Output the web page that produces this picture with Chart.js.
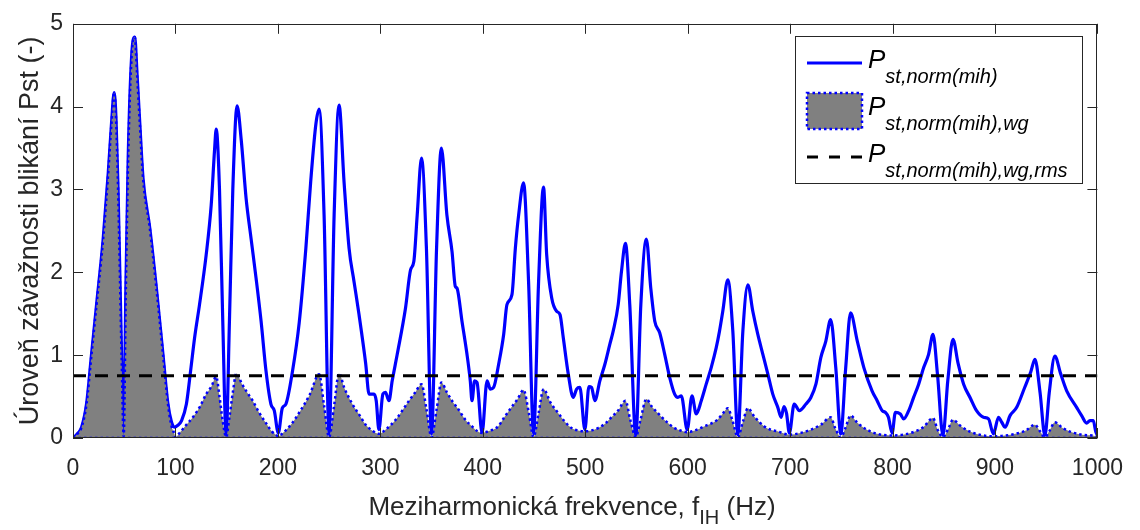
<!DOCTYPE html>
<html>
<head>
<meta charset="utf-8">
<script src="https://cdn.jsdelivr.net/npm/chart.js@4.4.1/dist/chart.umd.min.js"></script>
<style>
  body { margin: 0; background: #fff; }
  #wrap { width: 1140px; height: 530px; }
</style>
</head>
<body>
<div id="wrap"><canvas id="pstChart" width="1140" height="530"></canvas></div>
<script>
// Pst,norm(mih) - blue curve (Hz / Pst)
const freqMih = [
  0, 2, 5, 8.4, 13.2, 18, 23, 29.5, 34.4, 37.6, 40.2, 42, 44, 47.4, 49.5, 51.6, 53.9, 57.2, 60.3, 62.5,
  65.2, 68.4, 75, 81.4, 87.9, 92.7, 96, 99, 102, 106, 110.7, 114.8, 118.7, 123.5, 130, 134.9, 138.2, 139.8,
  143, 146.2, 149.5, 152.7, 156, 160.2, 164.2, 169, 173.8, 178.7, 183.6, 188.4, 193.2, 196.5, 200.4, 204.3,
  207.8, 214.3, 220.8, 227.3, 232, 237.2, 240.3, 245.1, 250, 254.9, 259.7, 264.6, 269.5, 274.3, 279.2, 285.7,
  289, 293.8, 296, 298.6, 302.5, 305, 308.4, 311.6, 316.5, 324.6, 329.5, 332.7, 336, 340.2, 345, 350, 354.9,
  359.6, 365, 370, 373.2, 374.8, 379.7, 384.6, 387.8, 389.5, 392, 394.4, 399.3, 404.2, 407.4, 410.6, 415.5,
  420.4, 423.6, 428.5, 431.8, 435, 439.8, 444.7, 449.6, 454.5, 459.3, 462.4, 467.3, 472.1, 475.4, 478.6,
  483.5, 488.3, 491.6, 494.8, 499.7, 503.6, 506.2, 509.4, 514.3, 519.2, 524, 527.3, 532.2, 535.4, 539.3,
  543.5, 549.4, 554.3, 559.7, 564, 567.9, 572.7, 577.6, 582.5, 587.3, 590.5, 593.8, 599.6, 604.2, 608.4,
  613.3, 618.1, 623, 627.9, 631.1, 634.3, 639.2, 644.1, 649, 653.9, 658.8, 663.6, 668.5, 673.4, 678.3, 683.1,
  688, 691.3, 694, 696.5, 699.3, 704, 709, 715.5, 720.3, 725.2, 730, 734.9, 739.6, 744.6, 749.5, 754.3, 759,
  765.6, 772, 780, 785, 790, 793, 796, 799.6, 802.8, 807.6, 810.9, 815.8, 820.6, 825.5, 830.4, 835.2, 839.5,
  844, 849.2, 854, 859, 864, 869.4, 876, 882, 888.8, 893.7, 898.5, 903.4, 906.6, 909.9, 914.7, 921.2, 929,
  935, 939, 944, 948.7, 953, 958.5, 964, 970, 979.7, 984.6, 989.4, 992.7, 996, 999, 1000
];
const pstMih = [
  0, 0.02, 0.06, 0.13, 0.41, 1.0, 1.61, 2.41, 3.2, 3.8, 4.17, 3.85, 3.0, 1.0, 0.02, 1.8, 3.4, 4.6, 4.84, 4.4,
  3.8, 3.13, 2.53, 1.81, 1.0, 0.41, 0.2, 0.13, 0.15, 0.21, 0.41, 0.81, 1.21, 1.61, 2.21, 2.81, 3.48, 3.73,
  3.0, 1.41, 0.02, 1.41, 3.0, 4.01, 3.6, 2.89, 2.41, 1.93, 1.41, 0.81, 0.41, 0.33, 0.06, 0.36,
  0.41, 0.81, 1.39, 2.29, 3.09, 3.8, 3.97, 2.69, 0.05, 2.69, 4.02, 3.09, 2.29, 1.89, 1.49, 0.9,
  0.53, 0.53, 0.45, 0.1, 0.53, 0.55, 0.45, 0.69, 1.01, 1.57, 2.03, 2.13, 2.69, 3.38, 2.29, 0.05, 2.29,
  3.5, 2.69, 2.25, 1.83, 1.81, 1.41, 1.01, 0.69, 0.45, 0.69, 0.67, 0.06, 0.69, 0.59, 0.61, 0.89,
  1.25, 1.61, 1.73, 2.29, 2.69, 3.08, 1.89, 0.05, 1.89, 3.03, 2.21, 1.69, 1.53, 1.49, 1.21,
  0.77, 0.49, 0.59, 0.61, 0.1, 0.62, 0.61, 0.45, 0.69, 0.89, 1.13, 1.29, 1.61, 2.01, 2.35,
  1.61, 0.02, 1.61, 2.4, 1.81, 1.41, 1.27, 1.01, 0.73, 0.53, 0.49, 0.51, 0.1, 0.51, 0.29,
  0.45, 0.65, 0.85, 1.09, 1.29, 1.53, 1.91, 1.29, 0.04, 1.29, 1.85, 1.53, 1.25, 1.01, 0.77, 0.53,
  0.37, 0.25, 0.38, 0.3, 0.06, 0.41, 0.33, 0.41, 0.49, 0.65, 0.97, 1.17, 1.43, 0.85, 0.05, 0.85, 1.51,
  1.17, 0.85, 0.57, 0.45, 0.33, 0.31, 0.25, 0.06, 0.31, 0.29, 0.23, 0.33, 0.49, 0.65, 0.85, 1.01, 1.25,
  0.75, 0.03, 0.7, 1.19, 0.9, 0.65, 0.48, 0.33, 0.25, 0.23, 0.05, 0.25, 0.19, 0.13, 0.27, 0.37, 0.61,
  0.8, 0.95, 0.55, 0.03, 0.55, 0.99, 0.78, 0.57, 0.37, 0.27, 0.18, 0.21, 0.21, 0.05, 0.05
];

// Pst,norm(mih),wg - weighted, grey area
const freqWg = [
  0, 2, 5, 8.4, 13.2, 18, 23, 29.5, 34.4, 37.6, 40.2, 42, 44, 47.4, 49.5, 51.6, 53.9, 57.2, 60.3, 62.5,
  65.2, 68.4, 75, 81.4, 87.9, 92.7, 96, 99, 100, 104, 110, 117, 124, 130, 135, 139.8, 143, 146.2, 149.5,
  152.7, 156, 159.5, 165, 170, 175.4, 182, 188.4, 194, 198, 200.4, 204, 214, 222, 231, 240.3, 245, 250,
  255, 259.6, 265, 272.7, 280, 285.7, 292, 298.6, 305, 315, 328, 334, 340.2, 345, 350, 355, 359.6, 365,
  370, 376.5, 383, 389.5, 395, 399.3, 405, 415, 421, 428, 434, 439.8, 445, 449.6, 454.5, 459.3, 466, 473.7,
  480, 486.7, 493, 499.7, 506, 512.6, 519, 525.6, 532, 539.3, 544, 549.4, 554, 559.7, 565, 571, 579, 587.3,
  593, 599.6, 607, 616, 622, 629, 634, 639.2, 644, 649, 654, 658.8, 665, 674.8, 681, 687.6, 699.3, 710, 720,
  730, 739.6, 744, 749.5, 754, 759, 766, 775, 785, 799.6, 810, 820, 830, 839.5, 844, 849.2, 854, 859, 866,
  875, 885, 898.5, 910, 920, 930, 939, 944, 948.7, 953, 958.5, 966, 975, 985, 995, 1000
];
const pstWg = [
  0, 0.02, 0.06, 0.13, 0.41, 1.0, 1.61, 2.41, 3.2, 3.8, 4.17, 3.85, 3.0, 1.0, 0.02, 1.8, 3.4, 4.6, 4.84, 4.4,
  3.8, 3.13, 2.53, 1.81, 1.0, 0.41, 0.15, 0.05, 0.01, 0.06, 0.15, 0.25, 0.38, 0.53, 0.62, 0.74, 0.5, 0.2, 0.01,
  0.25, 0.55, 0.78, 0.65, 0.55, 0.45, 0.3, 0.18, 0.08, 0.04, 0.02, 0.05, 0.18, 0.33, 0.52, 0.77, 0.4, 0.01,
  0.4, 0.78, 0.6, 0.41, 0.27, 0.16, 0.09, 0.05, 0.1, 0.22, 0.45, 0.55, 0.65, 0.35, 0.01, 0.35, 0.67, 0.55,
  0.45, 0.34, 0.22, 0.14, 0.08, 0.06, 0.08, 0.14, 0.25, 0.37, 0.47, 0.58, 0.3, 0.01, 0.3, 0.59, 0.43, 0.3,
  0.2, 0.12, 0.09, 0.08, 0.09, 0.12, 0.17, 0.25, 0.33, 0.45, 0.22, 0.01, 0.22, 0.47, 0.38, 0.3, 0.2, 0.12,
  0.09, 0.07, 0.09, 0.14, 0.17, 0.22, 0.29, 0.36, 0.2, 0.01, 0.2, 0.36, 0.26, 0.14, 0.1, 0.08, 0.04, 0.06, 0.1,
  0.16, 0.25, 0.12, 0.01, 0.12, 0.27, 0.18, 0.1, 0.05, 0.03, 0.04, 0.07, 0.13, 0.24, 0.1, 0.01, 0.1, 0.22, 0.15,
  0.08, 0.04, 0.02, 0.03, 0.05, 0.09, 0.16, 0.08, 0.01, 0.08, 0.19, 0.12, 0.07, 0.04, 0.03, 0.02
];

// Pst,norm(mih),wg,rms - dashed level
const pstRms = 0.75;
const freqRange = [0, 1000];

const xTicks = [0, 100, 200, 300, 400, 500, 600, 700, 800, 900, 1000];
const yTicks = [0, 1, 2, 3, 4, 5];

const xTitle = ['Meziharmonická frekvence, f', 'IH', ' (Hz)'];
const yTitle = 'Úroveň závažnosti blikání Pst (-)';
const legendLabels = [
  ['P', 'st,norm(mih)'],
  ['P', 'st,norm(mih),wg'],
  ['P', 'st,norm(mih),wg,rms']
];

const BLUE = '#0000ff';
const GREY = '#808080';
const AXIS = '#262626';
const FONT = '"Liberation Sans", Arial, Helvetica, sans-serif';

const toPoints = (xs, ys) => xs.map((x, i) => ({ x: x, y: ys[i] }));

// draw main text followed by a lowered, smaller subscript
function textWithSub(ctx, x, y, main, sub, tail, mainFont, subFont, drop) {
  ctx.font = mainFont;
  ctx.fillText(main, x, y);
  let cx = x + ctx.measureText(main).width;
  ctx.font = subFont;
  ctx.fillText(sub, cx, y + drop);
  cx += ctx.measureText(sub).width;
  if (tail) {
    ctx.font = mainFont;
    ctx.fillText(tail, cx, y);
  }
}

function subWidth(ctx, main, sub, tail, mainFont, subFont) {
  ctx.font = mainFont;
  let w = ctx.measureText(main).width + (tail ? ctx.measureText(tail).width : 0);
  ctx.font = subFont;
  return w + ctx.measureText(sub).width;
}

// box, inward ticks, axis titles and legend
const decorations = {
  id: 'decorations',
  afterDraw(chart) {
    const { ctx, chartArea: a, scales: { x, y } } = chart;
    ctx.save();

    // frame + inward ticks
    ctx.strokeStyle = AXIS;
    ctx.lineWidth = 1;
    ctx.setLineDash([]);
    ctx.strokeRect(Math.round(a.left) + 0.5, Math.round(a.top) + 0.5,
      Math.round(a.width) - 1, Math.round(a.height) - 1);
    ctx.beginPath();
    xTicks.forEach(v => {
      const px = Math.round(x.getPixelForValue(v)) + 0.5;
      ctx.moveTo(px, a.bottom); ctx.lineTo(px, a.bottom - 10);
      ctx.moveTo(px, a.top); ctx.lineTo(px, a.top + 10);
    });
    yTicks.forEach(v => {
      const py = Math.round(y.getPixelForValue(v)) + 0.5;
      ctx.moveTo(a.left, py); ctx.lineTo(a.left + 10, py);
      ctx.moveTo(a.right, py); ctx.lineTo(a.right - 10, py);
    });
    ctx.stroke();

    // axis titles
    ctx.fillStyle = AXIS;
    ctx.textBaseline = 'alphabetic';
    ctx.textAlign = 'left';
    const mf = '26px ' + FONT, sf = '20px ' + FONT;
    const w = subWidth(ctx, xTitle[0], xTitle[1], xTitle[2], mf, sf);
    textWithSub(ctx, 572 - w / 2, 515, xTitle[0], xTitle[1], xTitle[2], mf, sf, 9);

    ctx.save();
    ctx.translate(38, (a.top + a.bottom) / 2);
    ctx.rotate(-Math.PI / 2);
    ctx.font = '27px ' + FONT;
    ctx.textAlign = 'center';
    ctx.fillText(yTitle, 0, 0);
    ctx.restore();

    // legend
    const lx = 795, ly = 36, lw = 287, lh = 147;
    ctx.fillStyle = '#ffffff';
    ctx.fillRect(lx, ly, lw, lh);
    ctx.strokeStyle = AXIS;
    ctx.lineWidth = 1;
    ctx.strokeRect(lx + 0.5, ly + 0.5, lw, lh);

    const s0 = 807, s1 = 862;
    // row 1: solid blue
    ctx.strokeStyle = BLUE;
    ctx.lineWidth = 3;
    ctx.beginPath(); ctx.moveTo(s0, 63); ctx.lineTo(s1, 63); ctx.stroke();
    // row 2: grey patch with dotted blue edge
    ctx.fillStyle = GREY;
    ctx.fillRect(s0, 93, s1 - s0, 36);
    ctx.setLineDash([2.5, 3]);
    ctx.lineWidth = 2.5;
    ctx.strokeRect(s0, 93, s1 - s0, 36);
    // row 3: black dashed
    ctx.setLineDash([11, 11]);
    ctx.strokeStyle = '#000000';
    ctx.lineWidth = 3;
    ctx.beginPath(); ctx.moveTo(s0, 157); ctx.lineTo(s1, 157); ctx.stroke();
    ctx.setLineDash([]);

    ctx.fillStyle = '#000000';
    const pf = 'italic 26px ' + FONT, lf = 'italic 20px ' + FONT;
    [68, 115, 162].forEach((by, i) => {
      textWithSub(ctx, 868, by, legendLabels[i][0], legendLabels[i][1], '', pf, lf, 15);
    });

    ctx.restore();
  }
};

const ctx = document.getElementById('pstChart').getContext('2d');

new Chart(ctx, {
  type: 'line',
  data: {
    datasets: [
      {
        // dashed rms level (drawn on top)
        data: freqRange.map(f => ({ x: f, y: pstRms })),
        borderColor: '#000000',
        borderWidth: 3,
        borderDash: [13, 9],
        pointRadius: 0,
        fill: false
      },
      {
        // dotted lower edge of the grey area
        data: freqRange.map(f => ({ x: f, y: 0 })),
        borderColor: BLUE,
        borderWidth: 2.5,
        borderDash: [2.5, 3],
        pointRadius: 0,
        fill: false
      },
      {
        data: toPoints(freqWg, pstWg),
        borderColor: BLUE,
        borderWidth: 2.5,
        borderDash: [2.5, 3],
        backgroundColor: GREY,
        pointRadius: 0,
        cubicInterpolationMode: 'monotone',
        fill: 'origin'
      },
      {
        data: toPoints(freqMih, pstMih),
        borderColor: BLUE,
        borderWidth: 3.2,
        pointRadius: 0,
        cubicInterpolationMode: 'monotone',
        fill: false
      }
    ]
  },
  options: {
    responsive: false,
    animation: false,
    layout: { padding: { left: 0, top: 20, right: 39, bottom: 0 } },
    plugins: {
      legend: { display: false },
      tooltip: { enabled: false }
    },
    scales: {
      x: {
        type: 'linear',
        min: 0,
        max: 1000,
        afterFit: s => { s.height = 92; },
        afterBuildTicks: s => { s.ticks = xTicks.map(v => ({ value: v })); },
        grid: { display: false, drawTicks: false },
        border: { display: false },
        ticks: { color: AXIS, font: { family: FONT, size: 23 }, padding: 17, maxRotation: 0,
                 callback: v => String(v) }
      },
      y: {
        min: 0,
        max: 5,
        afterFit: s => { s.width = 73; },
        afterBuildTicks: s => { s.ticks = yTicks.map(v => ({ value: v })); },
        grid: { display: false, drawTicks: false },
        border: { display: false },
        ticks: { color: AXIS, font: { family: FONT, size: 23 }, padding: 10,
                 callback: v => String(v) }
      }
    }
  },
  plugins: [decorations]
});
</script>
</body>
</html>
